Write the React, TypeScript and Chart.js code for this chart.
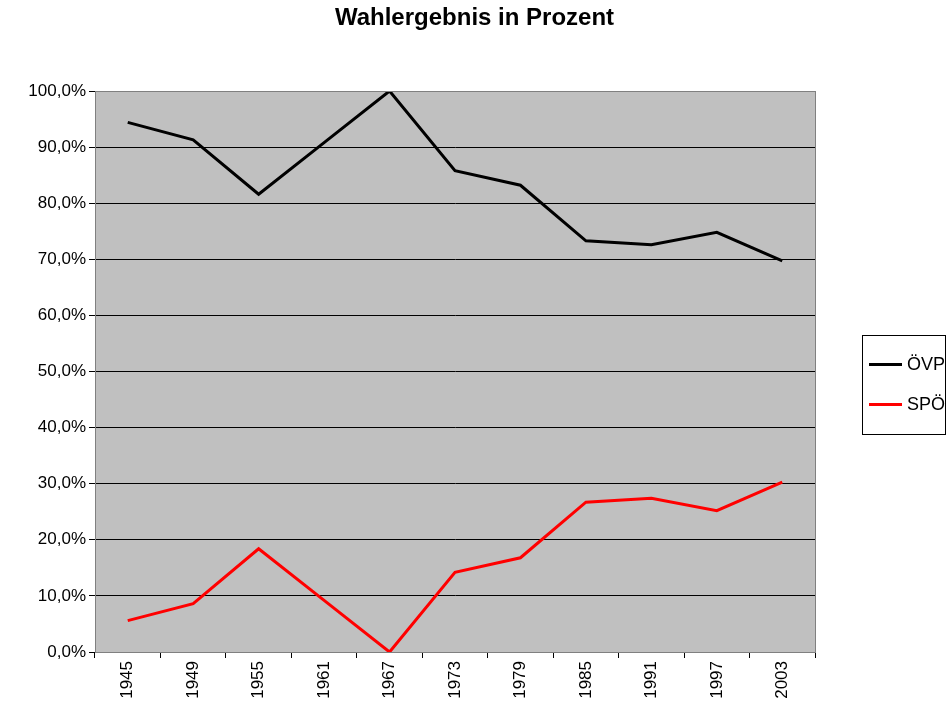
import React, { useEffect, useRef } from "react";
import { Chart, registerables } from "chart.js";
Chart.register(...registerables);

const years = ["1945","1949","1955","1961","1967","1973","1979","1985","1991","1997","2003"];
const oevp = [94.4, 91.3, 81.6, 90.8, 100, 85.8, 83.2, 73.3, 72.6, 74.8, 69.7];
const spoe = [5.6, 8.6, 18.4, 9.2, 0, 14.2, 16.8, 26.7, 27.4, 25.2, 30.3];

const bgPlugin = {
  id: "plotbg",
  beforeDraw(chart: any) {
    const { ctx, chartArea: a } = chart;
    ctx.save();
    ctx.fillStyle = "#C0C0C0";
    ctx.fillRect(a.left, a.top, a.right - a.left, a.bottom - a.top);
    ctx.restore();
  },
  afterDatasetsDraw(chart: any) {
    const { ctx, chartArea: a } = chart;
    ctx.save();
    ctx.strokeStyle = "#808080";
    ctx.lineWidth = 1;
    ctx.strokeRect(a.left + 0.5, a.top + 0.5, a.right - a.left, a.bottom - a.top);
    ctx.restore();
  },
};

export default function App() {
  const ref = useRef<HTMLCanvasElement>(null);
  useEffect(() => {
    const font = { family: "Liberation Sans, Arial", size: 17 };
    const chart = new Chart(ref.current!, {
      type: "line",
      data: {
        labels: years,
        datasets: [
          { label: "ÖVP", data: oevp, borderColor: "#000", borderWidth: 3, pointRadius: 0, tension: 0 },
          { label: "SPÖ", data: spoe, borderColor: "#ff0000", borderWidth: 3, pointRadius: 0, tension: 0 },
        ],
      },
      options: {
        animation: false,
        responsive: false,
        layout: { padding: { top: 91, right: 134, left: 0, bottom: 0 } },
        plugins: { legend: { display: false }, title: { display: false }, tooltip: { enabled: false } },
        scales: {
          x: {
            offset: true,
            grid: { offset: true, drawOnChartArea: false, color: "#000", tickLength: 6 },
            border: { color: "#000" },
            ticks: { color: "#000", font, maxRotation: 90, minRotation: 90, autoSkip: false },
            afterFit(s: any) { s.height = 68; },
          },
          y: {
            min: 0, max: 100,
            grid: { color: "#000", tickLength: 6 },
            border: { color: "#000" },
            ticks: { stepSize: 10, color: "#000", font, callback: (v: any) => Number(v).toFixed(1).replace(".", ",") + "%" },
            afterFit(s: any) { s.width = 95; },
          },
        },
      },
      plugins: [bgPlugin],
    });
    return () => chart.destroy();
  }, []);
  const item = (color: string, label: string) => (
    <div style={{ display: "flex", alignItems: "center", height: 40 }}>
      <div style={{ width: 52, height: 3, background: color, marginLeft: 6, marginRight: 5 }} />
      <span>{label}</span>
    </div>
  );
  return (
    <div style={{ position: "fixed", left: 0, top: 0, width: 949, height: 720, background: "#fff", fontFamily: "Liberation Sans, Arial" }}>
      <div style={{ position: "absolute", top: 3, left: 0, width: 949, textAlign: "center", fontWeight: "bold", fontSize: 24 }}>
        Wahlergebnis in Prozent
      </div>
      <canvas ref={ref} width={949} height={720} />
      <div style={{ position: "absolute", left: 862, top: 335, width: 84, height: 100, border: "1px solid #000", fontSize: 18, paddingTop: 8, boxSizing: "border-box" }}>
        {item("#000", "ÖVP")}
        {item("#ff0000", "SPÖ")}
      </div>
    </div>
  );
}
